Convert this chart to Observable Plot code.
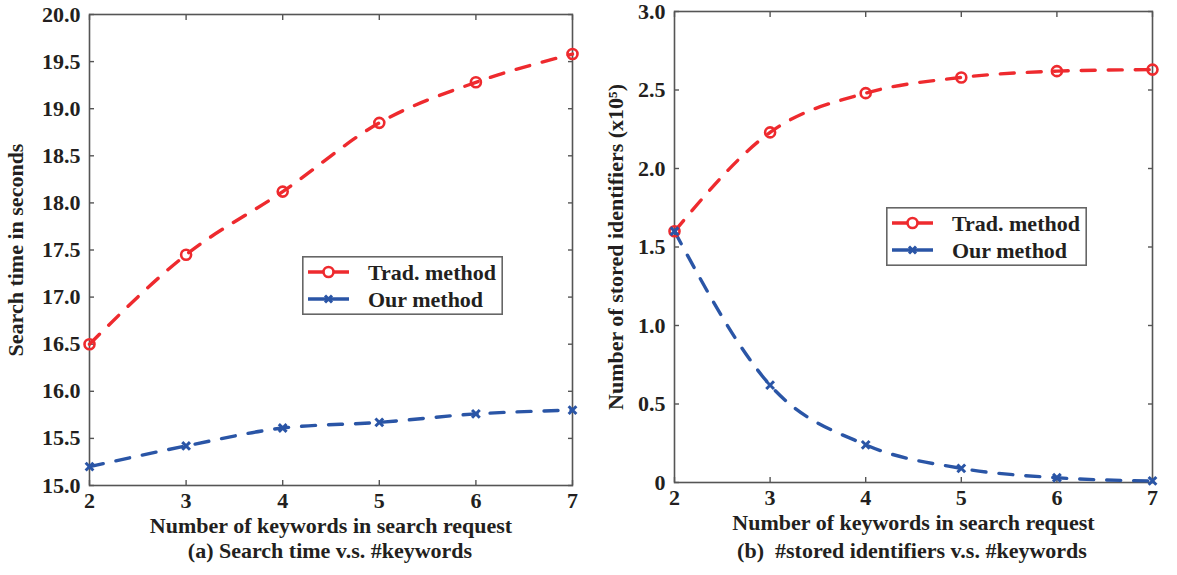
<!DOCTYPE html>
<html>
<head>
<meta charset="utf-8">
<script src="https://cdn.jsdelivr.net/npm/d3@7"></script>
<script src="https://cdn.jsdelivr.net/npm/@observablehq/plot@0.6"></script>
<style>
  html, body { margin: 0; padding: 0; background: #fff; }
  #root { position: relative; width: 1177px; height: 575px; overflow: hidden;
          font-family: 'Liberation Serif', 'Times New Roman', serif; font-weight: bold; color: #231f20; }
  .panel { position: absolute; top: 0; }
  .caption { position: absolute; font-size: 22px; white-space: pre; text-align: center; transform: translateX(-50%); }
  .legend { position: absolute; }
</style>
</head>
<body>
<div id="root"></div>
<script>
// ---- data ----
const keywords = [2, 3, 4, 5, 6, 7];
const tradTime = [16.5, 17.45, 18.12, 18.85, 19.28, 19.58];
const ourTime  = [15.2, 15.42, 15.61, 15.67, 15.76, 15.80];
const tradIds  = [1.6, 2.23, 2.48, 2.58, 2.62, 2.63];
const ourIds   = [1.6, 0.62, 0.24, 0.09, 0.03, 0.01];
const yTicksTime = [15.0, 15.5, 16.0, 16.5, 17.0, 17.5, 18.0, 18.5, 19.0, 19.5, 20.0];
const yTicksIds  = [0, 0.5, 1.0, 1.5, 2.0, 2.5, 3.0];
const seriesNames = ["Trad. method", "Our method"];
const captions = ["(a) Search time v.s. #keywords", "(b)  #stored identifiers v.s. #keywords"];
const xLabel = "Number of keywords in search request";
const yLabels = ["Search time in seconds", "Number of stored identifiers (x10\u2075)"];

const RED = "#ee2a2e";
const BLUE = "#2a55a6";
const AXIS = "#555";
const FONT = "'Liberation Serif', 'Times New Roman', serif";

function rows(ys) { return keywords.map((k, i) => ({k, v: ys[i]})); }

function makePanel(opts) {
  const {width, height, ml, mr, mt, mb, domain, ticks, fmt, yLabel, yLabelOffset, trad, our} = opts;
  return Plot.plot({
    width, height,
    marginLeft: ml, marginRight: mr, marginTop: mt, marginBottom: mb,
    style: {fontFamily: FONT, fontSize: "22px", fontWeight: "bold", color: "#231f20", background: "white"},
    x: {domain: [2, 7]},
    y: {domain},
    marks: [
      Plot.frame({stroke: AXIS, strokeWidth: 1.6}),
      Plot.axisX({anchor: "bottom", ticks: keywords, tickSize: -5, tickPadding: 12, stroke: AXIS, strokeWidth: 1.4,
                  label: xLabel, labelAnchor: "center", labelArrow: "none", labelOffset: 47, tickFormat: d => String(d)}),
      Plot.axisX({anchor: "top", ticks: keywords, tickSize: -5, stroke: AXIS, strokeWidth: 1.4, tickFormat: () => "", label: null}),
      Plot.axisY({anchor: "left", ticks, tickSize: -5, tickPadding: 14, stroke: AXIS, strokeWidth: 1.4, tickFormat: fmt,
                  label: yLabel, labelAnchor: "center", labelArrow: "none", labelOffset: yLabelOffset}),
      Plot.axisY({anchor: "right", ticks, tickSize: -5, stroke: AXIS, strokeWidth: 1.4, tickFormat: () => "", label: null}),
      Plot.line(rows(trad), {x: "k", y: "v", stroke: RED, strokeWidth: 3.4, strokeDasharray: "14,13", curve: "monotone-x"}),
      Plot.line(rows(our), {x: "k", y: "v", stroke: BLUE, strokeWidth: 3.4, strokeDasharray: "14,13", curve: "monotone-x"}),
      Plot.dot(rows(trad), {x: "k", y: "v", r: 5, stroke: RED, strokeWidth: 2.6, fill: "none"}),
      Plot.dot(rows(our), {x: "k", y: "v", r: 3.6, symbol: "times", stroke: BLUE, strokeWidth: 3, fill: "none"})
    ]
  });
}

function legendSvg(w, h) {
  const ns = "http://www.w3.org/2000/svg";
  const svg = document.createElementNS(ns, "svg");
  svg.setAttribute("width", w); svg.setAttribute("height", h);
  svg.innerHTML = `
    <rect x="0.8" y="0.8" width="${w - 1.6}" height="${h - 1.6}" fill="white" stroke="#666" stroke-width="1.6"/>
    <line x1="6" x2="47" y1="16" y2="16" stroke="${RED}" stroke-width="3.4"/>
    <circle cx="26.5" cy="16" r="5" fill="white" stroke="${RED}" stroke-width="2.6"/>
    <line x1="6" x2="47" y1="43" y2="43" stroke="${BLUE}" stroke-width="3.4"/>
    <path d="M23,39.5L30,46.5M30,39.5L23,46.5" stroke="${BLUE}" stroke-width="3"/>
    <text x="66" y="23.5" font-family="${FONT}" font-weight="bold" font-size="22" fill="#231f20">${seriesNames[0]}</text>
    <text x="66" y="50.5" font-family="${FONT}" font-weight="bold" font-size="22" fill="#231f20">${seriesNames[1]}</text>`;
  return svg;
}

const root = document.getElementById("root");

// Left panel
const left = document.createElement("div");
left.className = "panel"; left.style.left = "0px";
left.appendChild(makePanel({width: 588, height: 540, ml: 89, mr: 16, mt: 14, mb: 55,
  domain: [15, 20], ticks: yTicksTime, fmt: d3.format(".1f"),
  yLabel: yLabels[0], yLabelOffset: 82, trad: tradTime, our: ourTime}));
root.appendChild(left);

// Right panel
const right = document.createElement("div");
right.className = "panel"; right.style.left = "588px";
right.appendChild(makePanel({width: 589, height: 540, ml: 86, mr: 25, mt: 11, mb: 58,
  domain: [0, 3], ticks: yTicksIds, fmt: d => d === 0 ? "0" : d3.format(".1f")(d),
  yLabel: yLabels[1], yLabelOffset: 67, trad: tradIds, our: ourIds}));
root.appendChild(right);

// Legends
const lg1 = legendSvg(201, 59); lg1.classList.add("legend");
lg1.style.left = "302px"; lg1.style.top = "256px";
root.appendChild(lg1);
const lg2 = legendSvg(201, 59); lg2.classList.add("legend");
lg2.style.left = "886px"; lg2.style.top = "207px";
root.appendChild(lg2);

// Captions
const c1 = document.createElement("div"); c1.className = "caption";
c1.textContent = captions[0]; c1.style.left = "330px"; c1.style.top = "538px";
root.appendChild(c1);
const c2 = document.createElement("div"); c2.className = "caption";
c2.textContent = captions[1]; c2.style.left = "912px"; c2.style.top = "538px";
root.appendChild(c2);
</script>
</body>
</html>
